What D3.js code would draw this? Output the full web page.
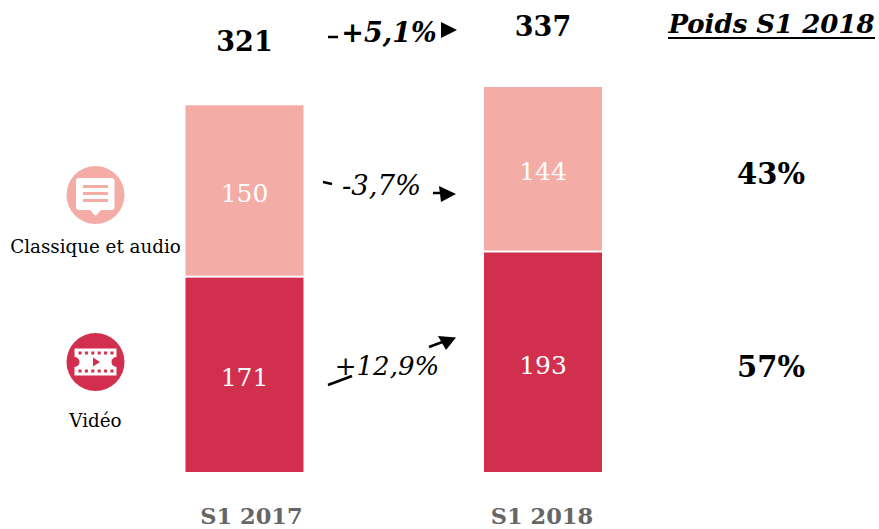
<!DOCTYPE html>
<html><head><meta charset="utf-8">
<script src="https://cdn.jsdelivr.net/npm/d3@7"></script>
<style>html,body{margin:0;padding:0;background:#fff}svg{display:block}text{font-family:"DejaVu Serif","Liberation Serif",serif}</style>
</head><body><svg id="c" width="879" height="529"></svg>
<script>
const periods=["S1 2017","S1 2018"];
const seriesNames=["Vidéo","Classique et audio"];
const video=[171,193];
const classique=[150,144];
const totals=[321,337];
const weights=["57%","43%"];
const changes=["+12,9%","-3,7%","+5,1%"];
const weightTitle="Poids S1 2018";
const svg=d3.select("#c");
const x=d3.scalePoint().domain(periods).range([244.5,543]);
const y=d3.scaleLinear().domain([0,337]).range([472,87]);
const bw=118;
const colors=["#d22f4e","#f3aca6"];
const txt=(v,xx,yy,size,o={})=>svg.append("text").attr("x",xx).attr("y",yy).attr("text-anchor",o.anchor||"middle")
  .attr("font-size",size).attr("font-weight",o.weight||"normal").attr("font-style",o.style||"normal")
  .attr("fill",o.fill||"#000").text(v);
const totalY=[51,36], totalDx=[0,0];
periods.forEach((p,i)=>{
 const cx=x(p);
 svg.append("rect").attr("x",cx-bw/2).attr("width",bw).attr("y",y(video[i])+1).attr("height",y(0)-y(video[i])-1).attr("fill",colors[0]);
 svg.append("rect").attr("x",cx-bw/2).attr("width",bw).attr("y",y(video[i]+classique[i])).attr("height",y(video[i])-y(video[i]+classique[i])-1).attr("fill",colors[1]);
 txt(video[i],cx,(y(0)+y(video[i]))/2+12,25,{fill:"#fff"});
 txt(classique[i],cx,(y(video[i])+y(video[i]+classique[i]))/2+11,25,{fill:"#fff"});
 txt(totals[i],cx+totalDx[i],totalY[i],27,{weight:"bold"});
 txt(p,cx+(i?-1:7),524,22.5,{weight:"bold",fill:"#666"});
});
// weight column
txt(weightTitle,771.5,33,26,{weight:"bold",style:"italic"});
svg.append("line").attr("x1",668).attr("x2",875).attr("y1",38).attr("y2",38).attr("stroke","#000").attr("stroke-width",2);
txt(weights[1],771,184,29,{weight:"bold"});
txt(weights[0],771,377,29,{weight:"bold"});
// variation labels
txt(changes[2],389,42,27,{weight:"bold",style:"italic"});
txt(changes[1],381.5,195,27.5,{style:"italic"});
txt(changes[0],387,375,26,{style:"italic"});
// arrows
const seg=(a,b,c,d,w)=>svg.append("line").attr("x1",a).attr("y1",b).attr("x2",c).attr("y2",d).attr("stroke","#000").attr("stroke-width",w);
const head=(pts)=>svg.append("polygon").attr("points",pts).attr("fill","#000");
seg(328,37,338,37,2.5);
head("441,22 457,30 441,38");
seg(323,182,332,184,2.5);
seg(433,193,445,193,2.5);
head("439,186 456,194 441,202");
seg(328,385,352,376,2.5);
seg(429,347,445,341,2.5);
head("438,336 456,337.5 446,350");
// icon: classique
const g1=svg.append("g");
g1.append("circle").attr("cx",95.5).attr("cy",195).attr("r",29).attr("fill",colors[1]);
g1.append("rect").attr("x",76).attr("y",178).attr("width",38.5).attr("height",32).attr("rx",3).attr("fill","#fff");
g1.append("polygon").attr("points","89,209 102,209 95.5,216").attr("fill","#fff");
[185,192,199].forEach(v=>g1.append("rect").attr("x",83).attr("y",v).attr("width",25).attr("height",3).attr("fill",colors[1]));
txt(seriesNames[1],95.5,253,18.3,{});
// icon: video
const g2=svg.append("g");
g2.append("circle").attr("cx",95.5).attr("cy",362).attr("r",29).attr("fill",colors[0]);
g2.append("path").attr("fill","#fff")
 .attr("d","M74.5 348.5H116.5V357A5 5 0 0 0 116.5 367V375.5H74.5V367A5 5 0 0 0 74.5 357Z");
d3.range(6).forEach(i=>{
 [353,371].forEach(v=>g2.append("rect").attr("x",78.5+i*6.4).attr("y",v-1.5).attr("width",3).attr("height",3).attr("fill",colors[0]));
});
g2.append("polygon").attr("points","93,357.5 100,362 93,366.5").attr("fill",colors[0]);
txt(seriesNames[0],95.5,427,18.3,{});
</script></body></html>
